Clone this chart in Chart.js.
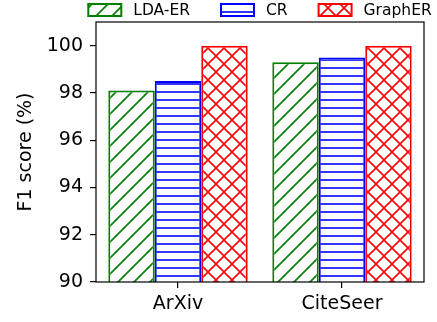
<!DOCTYPE html>
<html>
<head>
<meta charset="utf-8">
<script src="https://cdn.jsdelivr.net/npm/chart.js@4"></script>
<style>
  html, body { margin: 0; padding: 0; background: #fff; }
  #wrap { width: 437px; height: 322px; }
</style>
</head>
<body>
<div id="wrap"><canvas id="f1Chart"></canvas></div>
<script>
const categories = ['ArXiv', 'CiteSeer'];
const seriesNames = ['LDA-ER', 'CR', 'GraphER'];
const ldaErScores = [98.1, 99.3];
const crScores = [98.5, 99.5];
const graphErScores = [100.0, 100.0];
const yTicks = [90, 92, 94, 96, 98, 100];

const FONT = 'DejaVu Sans';
const COLORS = {
    green: '#008000',
    blue: '#0000ff',
    red: '#ff0000'
};

// hatch tiles, like matplotlib's '/', '--' and 'x'
function makeHatch(kind, color) {
    const size = kind === 'horiz' ? 8 : 16;
    const c = document.createElement('canvas');
    c.width = size;
    c.height = size;
    const g = c.getContext('2d');
    g.fillStyle = '#fff';
    g.fillRect(0, 0, size, size);
    g.strokeStyle = color;
    g.lineWidth = 1.6;
    g.beginPath();
    if (kind === 'horiz') {
        g.moveTo(0, size / 2);
        g.lineTo(size, size / 2);
    }
    if (kind === 'diag' || kind === 'cross') {
        g.moveTo(-2, size + 2); g.lineTo(size + 2, -2);
        g.moveTo(-2, 2); g.lineTo(2, -2);
        g.moveTo(size - 2, size + 2); g.lineTo(size + 2, size - 2);
    }
    if (kind === 'cross') {
        g.moveTo(-2, -2); g.lineTo(size + 2, size + 2);
        g.moveTo(size - 2, -2); g.lineTo(size + 2, 2);
        g.moveTo(-2, size - 2); g.lineTo(2, size + 2);
    }
    g.stroke();
    return g.createPattern(c, 'repeat');
}

const frameAndLegend = {
    id: 'frameAndLegend',
    afterDraw(chart) {
        const {ctx, chartArea} = chart;
        ctx.save();
        ctx.strokeStyle = '#000';
        ctx.lineWidth = 1.2;
        ctx.strokeRect(chartArea.left, chartArea.top,
            chartArea.right - chartArea.left, chartArea.bottom - chartArea.top);

        // legend row above the plot
        ctx.font = '15.5px "' + FONT + '"';
        const boxW = 33, boxH = 12, gap = 12, itemGap = 31;
        const sets = chart.data.datasets;
        let total = 0;
        sets.forEach((ds, i) => {
            total += boxW + gap + ctx.measureText(ds.label).width;
            if (i < sets.length - 1) total += itemGap;
        });
        let x = (chartArea.left + chartArea.right) / 2 - total / 2;
        const cy = 10;
        sets.forEach(ds => {
            ctx.fillStyle = ds.backgroundColor;
            ctx.fillRect(x, cy - boxH / 2, boxW, boxH);
            ctx.strokeStyle = ds.borderColor;
            ctx.lineWidth = 2;
            ctx.strokeRect(x, cy - boxH / 2, boxW, boxH);
            x += boxW + gap;
            ctx.fillStyle = '#000';
            ctx.textBaseline = 'middle';
            ctx.fillText(ds.label, x, cy + 1);
            x += ctx.measureText(ds.label).width + itemGap;
        });
        ctx.restore();
    }
};

const values = [ldaErScores, crScores, graphErScores];
const hatchKinds = ['diag', 'horiz', 'cross'];
const edgeColors = [COLORS.green, COLORS.blue, COLORS.red];

new Chart(document.getElementById('f1Chart'), {
    type: 'bar',
    data: {
        labels: categories,
        datasets: seriesNames.map((name, i) => ({
            label: name,
            data: values[i],
            backgroundColor: makeHatch(hatchKinds[i], edgeColors[i]),
            borderColor: edgeColors[i],
            borderWidth: 2,
            borderSkipped: 'start'
        }))
    },
    options: {
        responsive: true,
        maintainAspectRatio: false,
        animation: false,
        layout: {
            padding: { top: 22, right: 13, left: 0, bottom: 0 }
        },
        categoryPercentage: 0.85,
        barPercentage: 1.0,
        plugins: {
            legend: { display: false },
            tooltip: { enabled: false }
        },
        scales: {
            x: {
                grid: {
                    display: true,
                    offset: false,
                    drawOnChartArea: false,
                    drawTicks: true,
                    tickLength: 6,
                    color: '#000',
                    lineWidth: 1.2
                },
                border: { display: false },
                ticks: {
                    color: '#000',
                    padding: 5,
                    font: { family: FONT, size: 19 }
                },
                afterFit(scale) { scale.height = 40; }
            },
            y: {
                min: 90,
                max: 101,
                afterBuildTicks(scale) {
                    scale.ticks = yTicks.map(v => ({ value: v }));
                },
                grid: {
                    display: true,
                    drawOnChartArea: false,
                    drawTicks: true,
                    tickLength: 6,
                    color: '#000',
                    lineWidth: 1.2
                },
                border: { display: false },
                ticks: {
                    color: '#000',
                    padding: 7,
                    font: { family: FONT, size: 19 }
                },
                title: {
                    display: true,
                    text: 'F1 score (%)',
                    color: '#000',
                    padding: { top: 15, bottom: 0 },
                    font: { family: FONT, size: 19 }
                },
                afterFit(scale) { scale.width = 96; }
            }
        }
    },
    plugins: [frameAndLegend]
});
</script>
</body>
</html>
